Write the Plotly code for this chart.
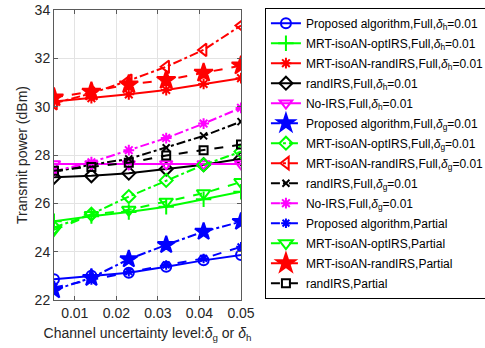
import plotly.graph_objects as go

x = [0.005, 0.014, 0.023, 0.032, 0.041, 0.05]

names = [
    "Proposed algorithm,Full,<i>δ</i><sub>h</sub>=0.01",
    "MRT-isoAN-optIRS,Full,<i>δ</i><sub>h</sub>=0.01",
    "MRT-isoAN-randIRS,Full,<i>δ</i><sub>h</sub>=0.01",
    "randIRS,Full,<i>δ</i><sub>h</sub>=0.01",
    "No-IRS,Full,<i>δ</i><sub>h</sub>=0.01",
    "Proposed algorithm,Full,<i>δ</i><sub>g</sub>=0.01",
    "MRT-isoAN-optIRS,Full,<i>δ</i><sub>g</sub>=0.01",
    "MRT-isoAN-randIRS,Full,<i>δ</i><sub>g</sub>=0.01",
    "randIRS,Full,<i>δ</i><sub>g</sub>=0.01",
    "No-IRS,Full,<i>δ</i><sub>g</sub>=0.01",
    "Proposed algorithm,Partial",
    "MRT-isoAN-optIRS,Partial",
    "MRT-isoAN-randIRS,Partial",
    "randIRS,Partial",
]

prop_full_h = [22.86, 23.0, 23.13, 23.38, 23.64, 23.86]
opt_full_h = [25.26, 25.47, 25.64, 25.86, 26.17, 26.48]
rand_mrt_full_h = [30.21, 30.35, 30.51, 30.69, 30.94, 31.18]
randirs_full_h = [27.08, 27.14, 27.25, 27.42, 27.6, 27.85]
noirs_full_h = [27.63, 27.63, 27.63, 27.63, 27.63, 27.63]
prop_full_g = [22.41, 22.92, 23.69, 24.28, 24.83, 25.24]
opt_full_g = [25.0, 25.55, 26.28, 26.95, 27.59, 28.14]
rand_mrt_full_g = [30.14, 30.55, 31.08, 31.65, 32.35, 33.36]
randirs_full_g = [27.3, 27.6, 27.84, 28.3, 28.79, 29.38]
noirs_full_g = [27.33, 27.7, 28.2, 28.7, 29.3, 29.95]
prop_partial = [22.52, 22.83, 23.17, 23.45, 23.72, 24.2]
opt_partial = [24.9, 25.52, 25.73, 26.07, 26.42, 26.88]
rand_mrt_partial = [30.38, 30.62, 30.92, 31.1, 31.4, 31.7]
randirs_partial = [27.35, 27.5, 27.68, 27.98, 28.2, 28.43]

series = [prop_full_h, opt_full_h, rand_mrt_full_h, randirs_full_h, noirs_full_h,
          prop_full_g, opt_full_g, rand_mrt_full_g, randirs_full_g, noirs_full_g,
          prop_partial, opt_partial, rand_mrt_partial, randirs_partial]

B, G, R, K, M = "#0000FF", "#00FF00", "#FF0000", "#000000", "#FF00FF"
styles = [
    (B, "solid", "circle-open", 10),
    (G, "solid", "cross-thin-open", 11),
    (R, "solid", "asterisk-open", 9),
    (K, "solid", "diamond-open", 10),
    (M, "solid", "triangle-down-open", 11),
    (B, "dashdot", "star", 13),
    (G, "dashdot", "diamond-open", 10),
    (R, "dashdot", "triangle-left-open", 11),
    (K, "dashdot", "x-thin-open", 7),
    (M, "dashdot", "asterisk-open", 9),
    (B, "dash", "asterisk-open", 8),
    (G, "dash", "triangle-down-open", 12),
    (R, "dash", "star", 14),
    (K, "dash", "square-open", 8),
]

fig = go.Figure()
for i, (name, y, (c, d, s, sz)) in enumerate(zip(names, series, styles)):
    fig.add_trace(go.Scatter(
        x=x, y=y, name=name, mode="lines+markers", legendgroup=f"g{i}",
        line=dict(color=c, width=2, dash=d),
        marker=dict(symbol=s, size=sz, color=c, line=dict(color=c, width=2)),
    ))

axis_common = dict(
    showgrid=True, gridcolor="#E3E3E3", gridwidth=1,
    showline=True, linecolor="#5A5A5A", linewidth=1, mirror="ticks",
    ticks="inside", ticklen=4, tickcolor="#5A5A5A",
    tickfont=dict(family="Liberation Sans, Arial", size=14, color="#262626"),
    zeroline=False,
)

fig.update_xaxes(range=[0.005, 0.05], tickvals=[0.01, 0.02, 0.03, 0.04, 0.05],
                 ticktext=["0.01", "0.02", "0.03", "0.04", "0.05"],
                 title=dict(text="Channel uncertainty level:<i>δ</i><sub>g</sub> or <i>δ</i><sub>h</sub>",
                            font=dict(family="Liberation Sans, Arial", size=14, color="#262626"),
                            standoff=8),
                 **axis_common)
fig.update_yaxes(range=[22, 34], tickvals=[22, 24, 26, 28, 30, 32, 34],
                 title=dict(text="Transmit power (dBm)",
                            font=dict(family="Liberation Sans, Arial", size=14, color="#262626"),
                            standoff=3),
                 **axis_common)

fig.update_layout(
    width=485, height=348,
    margin=dict(l=54, r=244, t=10, b=48, autoexpand=False),
    plot_bgcolor="white", paper_bgcolor="white",
    font=dict(family="Liberation Sans, Arial", size=12, color="#000000"),
    legend=dict(x=1.128, y=1.008, xanchor="left", yanchor="top",
                bordercolor="#000000", borderwidth=1, bgcolor="white",
                font=dict(family="Liberation Sans, Arial", size=12, color="#000000"),
                tracegroupgap=1, itemwidth=30, maxheight=340),
    showlegend=True,
)

fig.write_html("out.html")
